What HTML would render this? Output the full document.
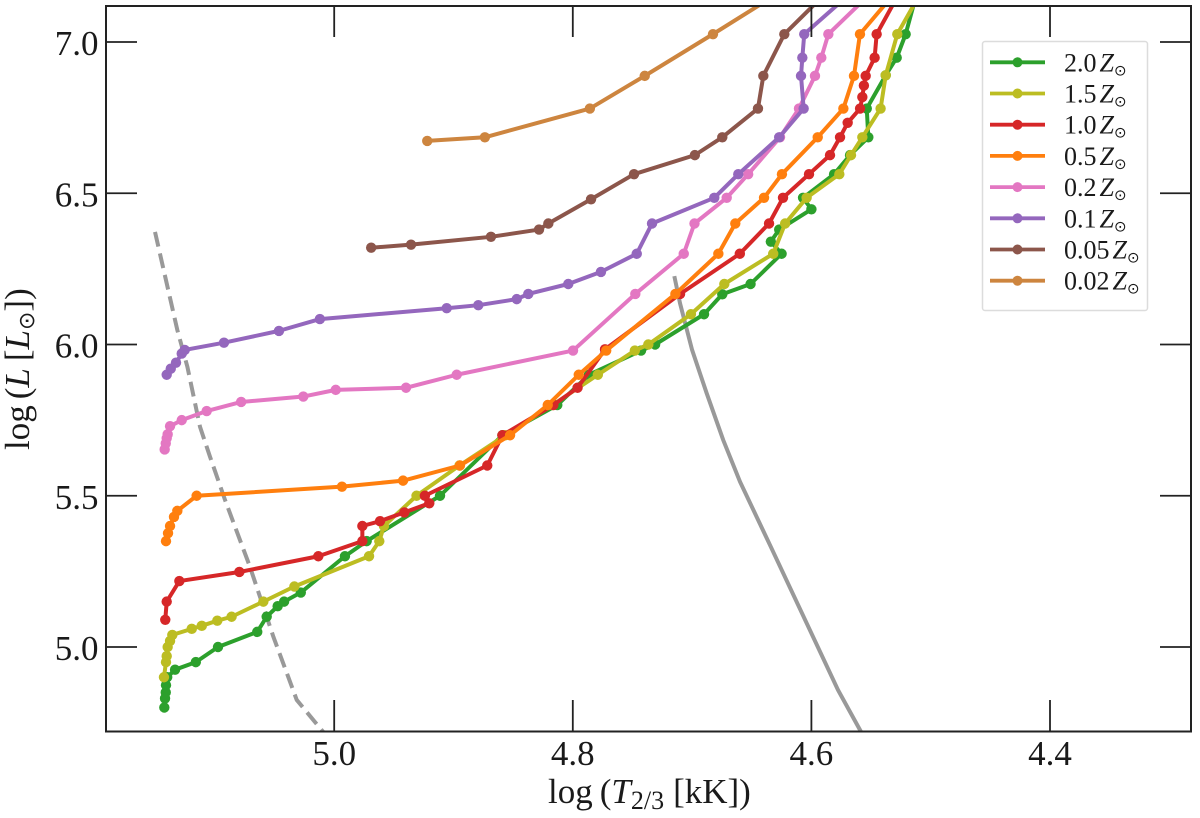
<!DOCTYPE html>
<html>
<head>
<meta charset="utf-8">
<title>HR diagram</title>
<style>
html,body{margin:0;padding:0;background:#fff;}
svg{display:block;}
text{font-family:"Liberation Serif","DejaVu Serif",serif;fill:#1a1a1a;}
.sun{font-family:"DejaVu Sans",sans-serif;}
</style>
</head>
<body>
<svg id="chart" xmlns="http://www.w3.org/2000/svg" width="1200" height="818" viewBox="0 0 1200 818">
  <defs><clipPath id="plot-clip"><rect x="106" y="6" width="1085" height="725"/></clipPath></defs>
  <g id="reference-lines" clip-path="url(#plot-clip)"></g>
  <g id="series-layer" clip-path="url(#plot-clip)"></g>
  <g id="tick-layer"></g>
  <rect x="106" y="6" width="1085" height="725.5" fill="none" stroke="#222" stroke-width="2"/>
  <g id="tick-labels" font-size="35"></g>
  <text x="548" y="803" font-size="35">log<tspan dx="7">(</tspan><tspan font-style="italic">T</tspan><tspan font-size="26" dy="6">2/3</tspan><tspan dy="-6" dx="9">[kK])</tspan></text>
  <text transform="translate(29,450) rotate(-90)" font-size="35">log<tspan dx="6">(</tspan><tspan font-style="italic">L</tspan><tspan dx="7">[</tspan><tspan font-style="italic">L</tspan><tspan class="sun" font-size="22" dy="5">⊙</tspan><tspan dy="-5">])</tspan></text>
  <g id="legend">
    <rect x="982.5" y="41.5" width="165" height="269" rx="2.5" fill="#fff" fill-opacity="0.85" stroke="#dcdcdc" stroke-width="1.5"/>
  </g>
</svg>
<script>
// Series values: log T (kK) and log L for each metallicity
const tempZ200 = [5.1424,5.1418,5.1412,5.141,5.140,5.1334,5.116,5.0974,5.0645,5.0566,5.0474,5.042,5.028,4.991,4.9728,4.9113,4.859,4.813,4.7864,4.7428,4.731,4.69,4.6747,4.651,4.625,4.634,4.627,4.6,4.607,4.581,4.5676,4.5523,4.5536,4.5377,4.5285,4.521,4.509];
const lumZ200  = [4.80,4.83,4.85,4.874,4.90,4.925,4.95,5.00,5.05,5.10,5.135,5.15,5.18,5.30,5.35,5.50,5.70,5.80,5.90,5.98,6.00,6.10,6.166,6.20,6.30,6.34,6.38,6.447,6.485,6.563,6.626,6.685,6.78,6.89,6.948,7.026,7.2];
const tempZ150 = [5.1427,5.141,5.1404,5.1396,5.1376,5.1357,5.1194,5.111,5.098,5.086,5.0594,5.0334,4.9708,4.9622,4.9583,4.931,4.895,4.8565,4.817,4.779,4.748,4.7367,4.701,4.673,4.632,4.622,4.604,4.5766,4.5668,4.5573,4.542,4.5377,4.528,4.503];
const lumZ150  = [4.90,4.95,4.97,5.00,5.02,5.04,5.06,5.07,5.087,5.10,5.15,5.20,5.30,5.35,5.40,5.50,5.60,5.70,5.80,5.90,5.98,6.00,6.10,6.20,6.30,6.40,6.485,6.563,6.626,6.685,6.78,6.89,7.026,7.2];
const tempZ100 = [5.1416,5.1404,5.1298,5.0795,5.0133,4.9764,4.9764,4.9616,4.9412,4.9203,4.924,4.8717,4.859,4.8163,4.796,4.773,4.7101,4.66,4.6355,4.6238,4.602,4.5844,4.576,4.5696,4.5592,4.5573,4.556,4.5545,4.547,4.5453,4.521];
const lumZ100  = [5.09,5.15,5.218,5.248,5.30,5.35,5.40,5.416,5.445,5.475,5.50,5.60,5.70,5.80,5.857,5.984,6.167,6.30,6.40,6.485,6.563,6.626,6.685,6.733,6.78,6.818,6.856,6.888,6.948,7.026,7.2];
const tempZ050 = [5.141,5.1393,5.1376,5.1343,5.1315,5.1153,4.9935,4.9423,4.8946,4.8526,4.821,4.795,4.772,4.714,4.678,4.6638,4.6397,4.6247,4.5947,4.5732,4.5643,4.5593,4.522];
const lumZ050  = [5.35,5.376,5.40,5.43,5.45,5.50,5.53,5.55,5.60,5.70,5.80,5.90,5.98,6.167,6.30,6.40,6.485,6.563,6.685,6.78,6.888,7.026,7.2];
const tempZ020 = [5.1421,5.1412,5.1404,5.1396,5.1376,5.1278,5.1069,5.078,5.0259,4.9987,4.9398,4.8973,4.7998,4.7476,4.707,4.698,4.671,4.653,4.6263,4.6104,4.597,4.5917,4.5858,4.54];
const lumZ020  = [5.653,5.673,5.69,5.703,5.73,5.75,5.78,5.81,5.828,5.85,5.857,5.90,5.98,6.167,6.30,6.40,6.485,6.563,6.685,6.78,6.888,6.948,7.026,7.2];
const tempZ010 = [5.1404,5.137,5.1326,5.1278,5.1253,5.0924,5.0463,5.012,4.9057,4.8792,4.847,4.8373,4.8038,4.7764,4.7464,4.7336,4.6814,4.6613,4.627,4.6065,4.6087,4.6076,4.606,4.556];
const lumZ010  = [5.90,5.92,5.94,5.97,5.982,6.006,6.045,6.084,6.12,6.13,6.15,6.167,6.20,6.24,6.30,6.40,6.485,6.563,6.685,6.78,6.888,6.948,7.026,7.2];
const tempZ005 = [4.969,4.9356,4.8686,4.8283,4.8205,4.7847,4.7487,4.6977,4.6747,4.6448,4.6403,4.6227,4.578];
const lumZ005  = [6.32,6.33,6.356,6.38,6.40,6.48,6.563,6.626,6.685,6.78,6.888,7.026,7.2];
const tempZ002 = [4.922,4.8737,4.7857,4.7397,4.6825,4.612];
const lumZ002  = [6.673,6.685,6.78,6.888,7.026,7.2];
// Reference tracks
const tempDashed = [5.1502,5.1315,5.1231,5.1125,5.1041,5.0915,5.0706,5.0510,5.0314,5.0119,5.0035];
const lumDashed  = [6.372,6.048,5.927,5.728,5.629,5.486,5.265,5.034,4.825,4.732,4.693];
const tempSolid  = [4.7149,4.7101,4.7000,4.6878,4.6739,4.6598,4.6347,4.5777,4.5593,4.54];
const lumSolid   = [6.226,6.136,5.982,5.839,5.684,5.546,5.337,4.858,4.726,4.59];
// Tick labels and legend labels
const xTickValues = [5.0,4.8,4.6,4.4];
const yTickValues = [5.0,5.5,6.0,6.5,7.0];
const seriesLabels = ["2.0","1.5","1.0","0.5","0.2","0.1","0.05","0.02"];
const seriesColors = ["#2ca02c","#bcbd22","#d62728","#ff7f0e","#e377c2","#9467bd","#8c564b","#cd853f"];
const seriesTemps = [tempZ200,tempZ150,tempZ100,tempZ050,tempZ020,tempZ010,tempZ005,tempZ002];
const seriesLums = [lumZ200,lumZ150,lumZ100,lumZ050,lumZ020,lumZ010,lumZ005,lumZ002];

const NS = "http://www.w3.org/2000/svg";
function xAxis(t){ return 334.2 + (5 - t) * 1193; }
function yAxis(l){ return 42 + (7 - l) * 302.5; }
function make(tag, parent, attrs){
  const el = document.createElementNS(NS, tag);
  for (const k in attrs) el.setAttribute(k, attrs[k]);
  parent.appendChild(el);
  return el;
}
function linePoints(ts, ls){
  return ts.map((t,i) => xAxis(t).toFixed(2) + "," + yAxis(ls[i]).toFixed(2)).join(" ");
}

const refLayer = document.getElementById("reference-lines");
const dashed = make("polyline", refLayer, {points: linePoints(tempDashed, lumDashed), fill:"none", stroke:"#999", "stroke-width":4, "stroke-dasharray":"15 7"});


const solid = make("polyline", refLayer, {points: linePoints(tempSolid, lumSolid), fill:"none", stroke:"#999", "stroke-width":4});



const seriesLayer = document.getElementById("series-layer");
seriesTemps.forEach((ts, s) => {
  const group = make("g", seriesLayer, {});
  
  
  const line = make("polyline", group, {points: linePoints(ts, seriesLums[s]), fill:"none", stroke:seriesColors[s], "stroke-width":4, "stroke-linejoin":"round"});
  
  
  ts.forEach((t, i) => {
    const dot = make("circle", group, {cx:xAxis(t).toFixed(2), cy:yAxis(seriesLums[s][i]).toFixed(2), r:5.2, fill:seriesColors[s]});
    
    
  });
});

const tickLayer = document.getElementById("tick-layer");
const labelLayer = document.getElementById("tick-labels");
xTickValues.forEach(v => {
  const x = xAxis(v);
  const bottom = make("line", tickLayer, {x1:x, x2:x, y1:731, y2:700, stroke:"#222", "stroke-width":1.8});
  
  
  const top = make("line", tickLayer, {x1:x, x2:x, y1:6, y2:37, stroke:"#222", "stroke-width":1.8});
  
  
  const label = make("text", labelLayer, {x:x, y:765, "text-anchor":"middle"});
  
  
  label.textContent = v.toFixed(1);
});
yTickValues.forEach(v => {
  const y = yAxis(v);
  const left = make("line", tickLayer, {x1:106, x2:137, y1:y, y2:y, stroke:"#222", "stroke-width":1.8});
  
  
  const right = make("line", tickLayer, {x1:1191, x2:1160, y1:y, y2:y, stroke:"#222", "stroke-width":1.8});
  
  
  const label = make("text", labelLayer, {x:98.5, y:y+13, "text-anchor":"end"});
  
  
  label.textContent = v.toFixed(1);
});

const legend = document.getElementById("legend");
seriesLabels.forEach((lab, s) => {
  const y = 62.3 + s * 31.2;
  const entry = make("g", legend, {});
  
  
  const key = make("line", entry, {x1:990, x2:1045, y1:y, y2:y, stroke:seriesColors[s], "stroke-width":3.8});
  
  
  const dot = make("circle", entry, {cx:1017.5, cy:y, r:5, fill:seriesColors[s]});
  
  
  const txt = make("text", entry, {x:1064, y:y+9, "font-size":26});
  
  
  txt.appendChild(document.createTextNode(lab));
  const z = make("tspan", txt, {"font-style":"italic", dx:3});
  z.textContent = "Z";
  const sun = make("tspan", txt, {class:"sun", "font-size":15, dy:4});
  sun.textContent = "⊙";
});
</script>
</body>
</html>
